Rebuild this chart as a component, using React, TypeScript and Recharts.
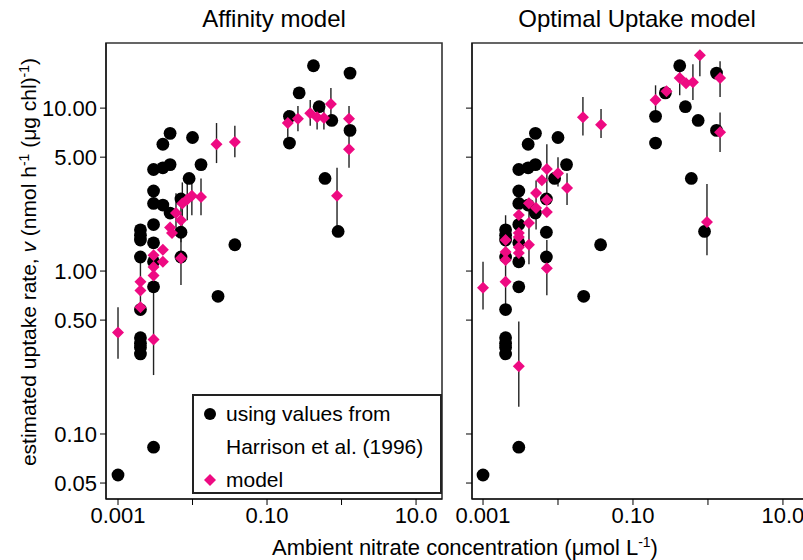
import React from "react";
import { ScatterChart, Scatter, XAxis, YAxis, ErrorBar, ReferenceArea, Legend } from "recharts";

// Harrison et al. (1996) values, shown in both panels
const harrisonX = [
  0.001, 0.003, 0.002, 0.002, 0.002, 0.002, 0.002, 0.002, 0.002, 0.002, 0.002,
  0.003, 0.003, 0.003, 0.003, 0.003, 0.003, 0.003, 0.004, 0.004, 0.004,
  0.005, 0.005, 0.005, 0.007, 0.007, 0.007, 0.009, 0.01, 0.013, 0.037, 0.022,
  0.2, 0.2, 0.27, 0.42, 0.5, 0.6, 0.74, 0.9, 1.3, 1.3,
];
const harrisonY = [
  0.056, 0.083, 1.79, 1.66, 1.55, 1.22, 0.58, 0.39, 0.36, 0.34, 0.31,
  4.2, 3.1, 2.6, 1.93, 1.49, 1.14, 0.8, 6.0, 4.3, 2.54,
  7.0, 4.5, 2.27, 2.77, 1.73, 1.22, 3.7, 6.6, 4.5, 1.45, 0.7,
  8.9, 6.1, 12.4, 18.2, 10.2, 3.7, 8.4, 1.75, 16.4, 7.3,
];

// Affinity model estimates (A)
const affinityX = [
  0.001, 0.002, 0.002, 0.002, 0.003, 0.003, 0.003, 0.003, 0.004, 0.004,
  0.005, 0.0053, 0.006, 0.007, 0.0073, 0.007, 0.0098, 0.013, 0.0085,
  0.021, 0.037, 0.19, 0.26, 0.38, 0.47, 0.58, 0.72, 1.26, 1.26, 0.87,
];
const affinityY = [
  0.42, 0.86, 0.76, 0.6, 1.25, 1.06, 0.94, 0.38, 1.35, 1.14,
  1.85, 1.71, 2.27, 1.2, 2.6, 2.05, 2.9, 2.85, 2.75,
  6.0, 6.2, 8.1, 8.6, 9.3, 8.8, 8.7, 10.6, 8.6, 5.6, 2.9,
];
const affinityLo = [
  0.29, null, 0.58, null, null, null, null, 0.23, null, null,
  null, null, 1.65, 0.82, 1.9, 1.5, 2.2, 2.2, 2.05,
  4.6, 5.0, 6.6, 7.2, 7.8, 7.4, 7.4, 8.4, 6.9, 4.3, 1.84,
];
const affinityHi = [
  0.6, null, 1.22, null, null, null, null, 1.1, null, null,
  null, null, 3.0, 1.7, 3.5, 2.9, 3.6, 3.7, 3.5,
  8.1, 7.8, 9.7, 10.3, 11.2, 10.9, 10.7, 13.3, 10.3, 6.9, 4.3,
];

// Optimal Uptake model estimates (B)
const optimalX = [
  0.001, 0.002, 0.002, 0.002, 0.002, 0.003, 0.003, 0.003, 0.003, 0.003, 0.003,
  0.0041, 0.0041, 0.0041, 0.0051, 0.0051, 0.0061, 0.0071, 0.0071, 0.0071, 0.0071,
  0.01, 0.0132, 0.0215, 0.0375, 0.2, 0.28, 0.42, 0.51, 0.63, 0.78, 1.45, 1.45, 0.97,
];
const optimalY = [
  0.79, 1.55, 1.31, 1.17, 0.86, 2.21, 1.62, 1.4, 1.29, 1.71, 0.26,
  1.97, 1.45, 2.61, 3.01, 2.44, 3.61, 4.23, 2.73, 2.3, 1.04,
  3.99, 3.23, 8.8, 7.9, 11.2, 12.7, 15.3, 14.2, 14.4, 21.1, 15.3, 7.1, 2.0,
];
const optimalLo = [
  0.58, null, null, 0.62, null, null, null, null, null, null, 0.147,
  null, 1.1, null, null, 1.8, null, 2.9, null, null, 0.71,
  3.3, 2.54, 6.8, 6.55, 8.4, null, 12.0, null, 11.2, 15.7, 11.7, 5.37, 1.25,
];
const optimalHi = [
  1.14, null, null, 2.2, null, null, null, null, null, null, 0.49,
  null, 2.7, null, null, 3.6, null, 6.0, null, null, 1.55,
  5.0, 3.99, 11.7, 9.86, 13.8, null, 18.1, null, 18.6, 21.5, 19.4, 9.4, 3.42,
];

const xTicks = [0.001, 0.01, 0.1, 1, 10];
const xTickLabels = ["0.001", "", "0.10", "", "10.0"];
const yTicks = [0.05, 0.1, 0.5, 1, 5, 10];
const yTickLabels = ["0.05", "0.10", "0.50", "1.00", "5.00", "10.00"];

const FONT = "'Liberation Sans', Arial, Helvetica, sans-serif";
const PINK = "#EE0A82";

function toPoints(xs: number[], ys: number[], lo?: (number | null)[], hi?: (number | null)[]) {
  return xs.map((x, i) => {
    const l = lo ? lo[i] : null;
    const h = hi ? hi[i] : null;
    return {
      x,
      y: ys[i],
      err: [l != null ? ys[i] - l : 0, h != null ? h - ys[i] : 0],
    };
  });
}

const harrison = toPoints(harrisonX, harrisonY);
const affinity = toPoints(affinityX, affinityY, affinityLo, affinityHi);
const optimal = toPoints(optimalX, optimalY, optimalLo, optimalHi);

const Dot = (props: any) => <circle cx={props.cx} cy={props.cy} r={6.4} fill="#000" />;
const Diamond = (props: any) => {
  const { cx, cy } = props;
  const s = 6;
  return <polygon points={`${cx},${cy - s} ${cx + s},${cy} ${cx},${cy + s} ${cx - s},${cy}`} fill={PINK} />;
};

function LegendBox() {
  const row = { display: "flex", alignItems: "center", height: 33 } as const;
  return (
    <div
      style={{
        width: 250,
        height: 100,
        boxSizing: "border-box",
        border: "2px solid #222",
        background: "#fff",
        fontFamily: FONT,
        fontSize: 21,
        color: "#000",
        padding: "1px 0 0 0",
      }}
    >
      <div style={row}>
        <svg width={32} height={16}>
          <circle cx={16} cy={8} r={6} fill="#000" />
        </svg>
        <span>using values from</span>
      </div>
      <div style={row}>
        <span style={{ marginLeft: 32 }}>Harrison et al. (1996)</span>
      </div>
      <div style={row}>
        <svg width={32} height={16}>
          <polygon points="16,2 22,8 16,14 10,8" fill={PINK} />
        </svg>
        <span>model</span>
      </div>
    </div>
  );
}

type PanelProps = {
  width: number;
  yAxisWidth: number;
  right: number;
  xDomain: [number, number];
  yLabels: boolean;
  model: typeof affinity;
  legend?: boolean;
};

const yDomain: [number, number] = [0.0399, 25.1];

function Panel({ width, yAxisWidth, right, xDomain, yLabels, model, legend }: PanelProps) {
  const tickStyle = { fontSize: 22, fill: "#000", fontFamily: FONT };
  return (
    <ScatterChart width={width} height={560} margin={{ top: 43, right, bottom: 30, left: 0 }}>
      <XAxis
        type="number"
        dataKey="x"
        scale="log"
        domain={xDomain}
        allowDataOverflow
        ticks={xTicks}
        tickFormatter={(v: number) => xTickLabels[xTicks.indexOf(v)] ?? ""}
        tick={tickStyle}
        tickSize={6}
        tickMargin={2}
        height={31}
        stroke="#000"
      />
      <YAxis
        type="number"
        dataKey="y"
        scale="log"
        domain={yDomain}
        allowDataOverflow
        ticks={yTicks}
        tickFormatter={(v: number) => (yLabels ? yTickLabels[yTicks.indexOf(v)] ?? "" : "")}
        tick={tickStyle}
        tickSize={6}
        tickMargin={3}
        width={yAxisWidth}
        stroke="#000"
      />
      <ReferenceArea
        x1={xDomain[0]}
        x2={xDomain[1]}
        y1={yDomain[0]}
        y2={yDomain[1]}
        fill="none"
        stroke="#333"
        strokeWidth={1.6}
        ifOverflow="visible"
      />
      <Scatter data={harrison} shape={Dot} isAnimationActive={false} />
      <Scatter data={model} shape={Diamond} isAnimationActive={false}>
        <ErrorBar dataKey="err" direction="y" width={0} stroke="#222" strokeWidth={1.4} isAnimationActive={false} />
      </Scatter>
      {legend && (
        <Legend
          layout="vertical"
          align="center"
          verticalAlign="middle"
          content={() => <LegendBox />}
          wrapperStyle={{ left: 192, top: 394, width: 250, height: 100 }}
        />
      )}
    </ScatterChart>
  );
}

export default function App() {
  return (
    <div
      style={{
        position: "absolute",
        left: 0,
        top: 0,
        width: 803,
        height: 560,
        overflow: "hidden",
        background: "#fff",
        fontFamily: FONT,
        color: "#000",
      }}
    >
      <div style={{ position: "absolute", left: 0, top: 0 }}>
        <Panel width={460} yAxisWidth={106} right={18} xDomain={[0.00069, 22.3]} yLabels model={affinity} legend />
      </div>
      <div style={{ position: "absolute", left: 440, top: 0 }}>
        <Panel width={370} yAxisWidth={32} right={4} xDomain={[0.000713, 20.3]} yLabels={false} model={optimal} />
      </div>
      <div style={{ position: "absolute", left: 106, width: 336, top: 5, textAlign: "center", fontSize: 24 }}>
        Affinity model
      </div>
      <div style={{ position: "absolute", left: 472, width: 330, top: 5, textAlign: "center", fontSize: 24 }}>
        Optimal Uptake model
      </div>
      <div
        style={{
          position: "absolute",
          left: 465 - 300,
          width: 600,
          top: 535,
          textAlign: "center",
          fontSize: 22,
          whiteSpace: "nowrap",
        }}
      >
        Ambient nitrate concentration (&mu;mol L<sup style={{ fontSize: 14, verticalAlign: "8px", lineHeight: 0 }}>-1</sup>)
      </div>
      <div
        style={{
          position: "absolute",
          left: 29 - 300,
          top: 262 - 14,
          width: 600,
          height: 28,
          lineHeight: "28px",
          textAlign: "center",
          fontSize: 21,
          whiteSpace: "nowrap",
          transform: "rotate(-90deg)",
        }}
      >
        estimated uptake rate, <i>v</i> (nmol h
        <sup style={{ fontSize: 14, verticalAlign: "7px", lineHeight: 0 }}>-1</sup> (&mu;g chl)
        <sup style={{ fontSize: 14, verticalAlign: "7px", lineHeight: 0 }}>-1</sup>)
      </div>
    </div>
  );
}
